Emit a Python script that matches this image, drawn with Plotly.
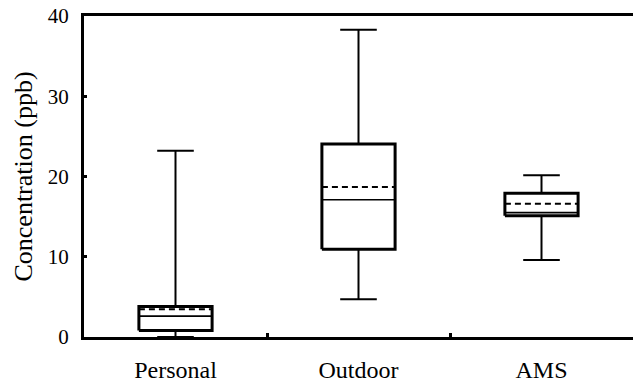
import plotly.graph_objects as go

# Summary statistics per sampling type (ppb)
categories = ["Personal", "Outdoor", "AMS"]
whisker_low = [0.0, 4.7, 9.6]
q1 = [0.8, 10.95, 15.1]
median = [2.6, 17.1, 15.5]
mean = [3.45, 18.7, 16.6]
q3 = [3.8, 24.05, 17.9]
whisker_high = [23.2, 38.3, 20.15]

y_ticks = [0, 10, 20, 30, 40]

BOX_HALF = 0.2   # half box width, in category units
CAP_HALF = 0.1   # half whisker-cap width
SERIF = "Liberation Serif, Times New Roman, serif"

fig = go.Figure()


def seg(xs, ys, width, dash="solid"):
    fig.add_trace(go.Scatter(
        x=xs, y=ys, mode="lines",
        line=dict(color="black", width=width, dash=dash),
        hoverinfo="skip", showlegend=False, cliponaxis=True,
    ))


for i, name in enumerate(categories):
    # whiskers (vertical stems and caps)
    seg([i, i], [whisker_low[i], q1[i]], 2)
    seg([i, i], [q3[i], whisker_high[i]], 2)
    seg([i - CAP_HALF, i + CAP_HALF], [whisker_high[i]] * 2, 2)
    seg([i - CAP_HALF, i + CAP_HALF], [whisker_low[i]] * 2, 2)
    # median and mean
    seg([i - BOX_HALF, i + BOX_HALF], [median[i]] * 2, 1.6)
    seg([i - BOX_HALF, i + BOX_HALF], [mean[i]] * 2, 2, dash="6px,4px")
    # interquartile box
    seg([i - BOX_HALF, i + BOX_HALF, i + BOX_HALF, i - BOX_HALF, i - BOX_HALF],
        [q1[i], q1[i], q3[i], q3[i], q1[i]], 3)

fig.update_layout(
    width=633, height=382,
    margin=dict(l=84, r=0, t=16, b=45),
    paper_bgcolor="white", plot_bgcolor="white",
    font=dict(family=SERIF, color="black"),
    showlegend=False,
)

fig.update_xaxes(
    range=[-0.5, 2.5], automargin=False,
    tickmode="array", tickvals=list(range(len(categories))), ticktext=categories,
    ticks="", tickfont=dict(family=SERIF, size=24), ticklabelstandoff=9,
    minor=dict(tickmode="array", tickvals=[0.5, 1.5], ticks="inside",
               ticklen=4, tickwidth=3, tickcolor="black"),
    showline=True, linecolor="black", linewidth=3, mirror=True,
    showgrid=False, zeroline=False,
)

fig.update_yaxes(
    range=[0, 40], automargin=False,
    tickmode="array", tickvals=y_ticks,
    ticks="inside", ticklen=3, tickwidth=3, tickcolor="black",
    tickfont=dict(family=SERIF, size=21), ticklabelstandoff=8,
    title=dict(text="Concentration (ppb)", font=dict(family=SERIF, size=26), standoff=8),
    showline=True, linecolor="black", linewidth=3,
    showgrid=False, zeroline=False,
)

fig.write_html("out.html")
